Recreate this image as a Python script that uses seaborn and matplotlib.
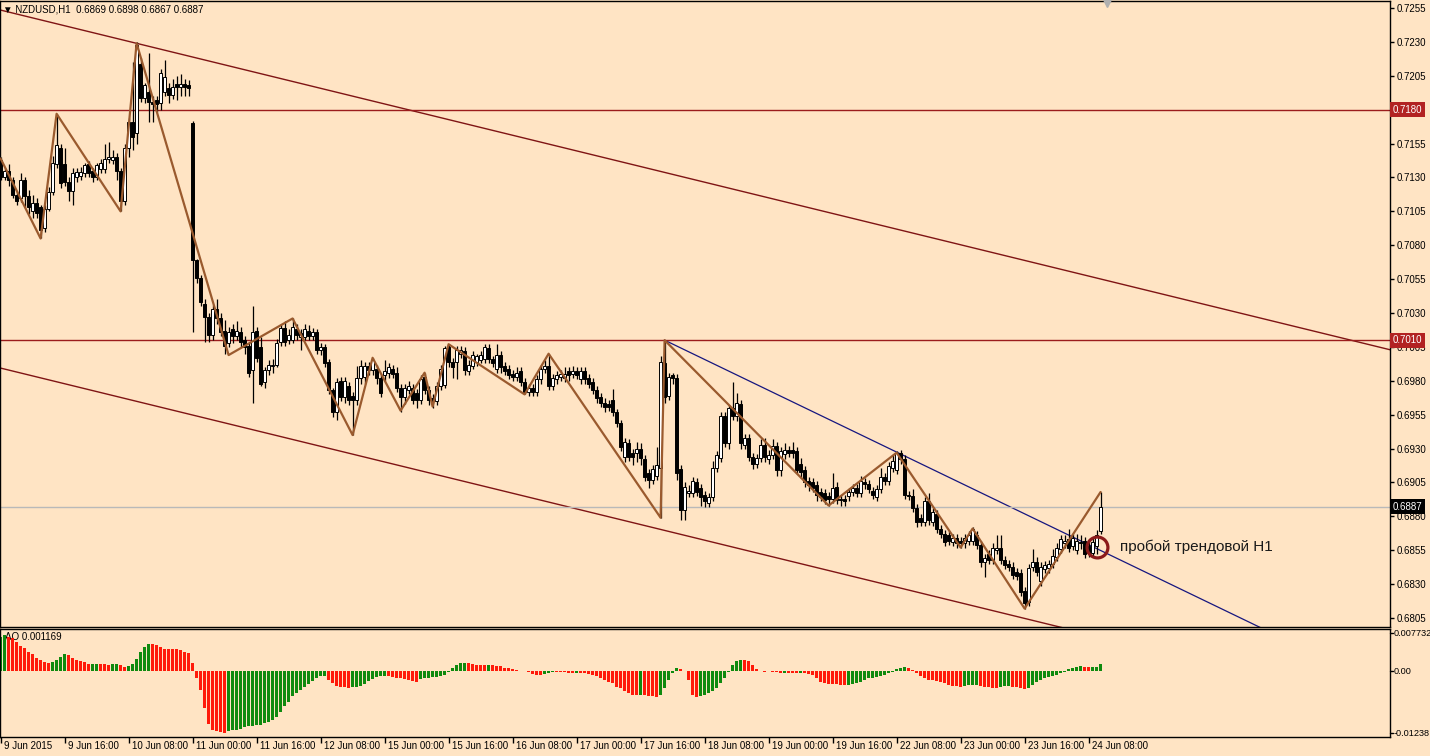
import numpy as np
import matplotlib
matplotlib.use("Agg")
import matplotlib.pyplot as plt
from matplotlib.transforms import blended_transform_factory
import seaborn as sns

# NZDUSD H1, prices in pips (x 1e-4), one row = 10 bars
opens = [
    7143, 7130, 7135, 7128, 7117, 7115, 7128, 7116, 7105, 7111,
    7108, 7093, 7107, 7119, 7140, 7152, 7140, 7127, 7120, 7130,
    7131, 7133, 7140, 7135, 7130, 7136, 7136, 7144, 7143, 7145,
    7135, 7113, 7152, 7171, 7163, 7214, 7189, 7193, 7186, 7187,
    7185, 7193, 7196, 7191, 7199, 7197, 7199, 7198, 7170, 7069,
    7056, 7037, 7027, 7014, 7033, 7026, 7017, 7008, 7018, 7013,
    7016, 7010, 7006, 6988, 7017, 7005, 6979, 6988, 6991, 6992,
    7009, 7019, 7010, 7010, 7018, 7012, 7012, 7017, 7013, 7016,
    7003, 7005, 6994, 6973, 6957, 6980, 6968, 6976, 6969, 6966,
    6982, 6983, 6991, 6988, 6989, 6982, 6984, 6986, 6989, 6986,
    6975, 6968, 6973, 6975, 6971, 6966, 6983, 6973, 6967, 6965,
    6976, 6977, 7005, 6994, 6994, 7000, 7002, 6987, 6991, 6994,
    6995, 6996, 7004, 6996, 6989, 6999, 6991, 6989, 6985, 6983,
    6987, 6979, 6972, 6975, 6972, 6981, 6989, 6991, 6976, 6981,
    6983, 6982, 6987, 6985, 6987, 6981, 6987, 6982, 6979, 6973,
    6968, 6964, 6963, 6966, 6957, 6949, 6924, 6934, 6927, 6927,
    6930, 6922, 6912, 6907, 6910, 6916, 6993, 6969, 6984, 6982,
    6915, 6885, 6897, 6897, 6905, 6901, 6896, 6890, 6894, 6916,
    6923, 6954, 6934, 6960, 6954, 6963, 6933, 6938, 6924, 6919,
    6923, 6933, 6922, 6925, 6932, 6914, 6926, 6929, 6929, 6928,
    6919, 6914, 6906, 6905, 6903, 6898, 6897, 6895, 6893, 6902,
    6893, 6893, 6895, 6898, 6901, 6897, 6905, 6904, 6899, 6894,
    6900, 6909, 6906, 6916, 6914, 6927, 6922, 6896, 6895, 6886,
    6879, 6876, 6891, 6876, 6882, 6871, 6867, 6866, 6861, 6864,
    6862, 6860, 6862, 6862, 6866, 6859, 6846, 6852, 6848, 6855,
    6857, 6848, 6845, 6843, 6839, 6838, 6825, 6817, 6843, 6846,
    6832, 6841, 6842, 6845, 6850, 6856, 6860, 6863, 6858, 6855,
    6861, 6862, 6858, 6853, 6858, 6869,
]
highs = [
    7145, 7137, 7140, 7130, 7120, 7133, 7130, 7121, 7117, 7115,
    7110, 7110, 7123, 7146, 7177, 7155, 7152, 7130, 7137, 7137,
    7138, 7141, 7142, 7137, 7141, 7144, 7155, 7156, 7150, 7148,
    7137, 7155, 7174, 7215, 7230, 7218, 7200, 7222, 7190, 7190,
    7210, 7217, 7200, 7203, 7205, 7206, 7203, 7202, 7172, 7070,
    7058, 7040, 7030, 7036, 7040, 7030, 7025, 7020, 7022, 7024,
    7020, 7013, 7008, 7035, 7020, 7012, 6990, 6995, 6996, 7011,
    7022, 7024, 7018, 7026, 7022, 7018, 7022, 7021, 7019, 7018,
    7008, 7007, 6996, 6975, 6982, 6983, 6983, 6979, 6972, 6991,
    6995, 6994, 6994, 6997, 6992, 6985, 6995, 6993, 6992, 6990,
    6978, 6978, 6980, 6978, 6974, 6984, 6986, 6976, 6970, 6979,
    6992, 7006, 7007, 6997, 7006, 7006, 7005, 6995, 7002, 7000,
    7002, 7007, 7007, 6998, 7007, 7002, 6994, 6992, 6988, 6990,
    6990, 6982, 6978, 6978, 6984, 6992, 6995, 7000, 6985, 6987,
    6988, 6990, 6990, 6991, 6990, 6990, 6990, 6985, 6982, 6976,
    6971, 6967, 6966, 6974, 6959, 6951, 6938, 6937, 6930, 6935,
    6934, 6925, 6915, 6918, 6931, 6998, 7010, 6986, 6986, 6985,
    6918, 6905, 6903, 6909, 6908, 6904, 6899, 6897, 6921, 6928,
    6957, 6957, 6962, 6979, 6971, 6966, 6941, 6941, 6927, 6926,
    6937, 6938, 6929, 6937, 6935, 6931, 6934, 6932, 6935, 6931,
    6923, 6917, 6909, 6908, 6906, 6901, 6900, 6898, 6912, 6905,
    6896, 6896, 6901, 6904, 6904, 6910, 6908, 6907, 6902, 6903,
    6916, 6912, 6920, 6925, 6928, 6929, 6925, 6899, 6900, 6889,
    6882, 6894, 6897, 6886, 6885, 6874, 6870, 6869, 6867, 6867,
    6865, 6867, 6869, 6872, 6869, 6862, 6852, 6855, 6860, 6866,
    6866, 6851, 6848, 6846, 6842, 6841, 6828, 6845, 6856, 6850,
    6846, 6847, 6848, 6856, 6860, 6866, 6866, 6871, 6867, 6867,
    6866, 6865, 6861, 6864, 6870, 6898,
]
lows = [
    7128, 7128, 7124, 7115, 7110, 7112, 7108, 7103, 7100, 7100,
    7085, 7090, 7105, 7117, 7137, 7122, 7124, 7113, 7110, 7127,
    7128, 7130, 7130, 7127, 7128, 7133, 7133, 7141, 7140, 7128,
    7105, 7110, 7145, 7150, 7155, 7186, 7185, 7171, 7171, 7178,
    7180, 7190, 7185, 7188, 7187, 7190, 7190, 7190, 7016, 7052,
    7035, 7009, 7009, 7010, 7022, 7013, 7000, 7005, 7008, 7010,
    7005, 7000, 6983, 6964, 6994, 6976, 6975, 6984, 6986, 6990,
    7006, 7006, 7007, 7008, 7010, 7003, 7010, 7010, 7010, 7000,
    6999, 6990, 6970, 6953, 6951, 6965, 6964, 6962, 6940, 6962,
    6978, 6978, 6984, 6984, 6978, 6968, 6980, 6982, 6982, 6972,
    6957, 6963, 6970, 6963, 6960, 6963, 6970, 6962, 6960, 6962,
    6973, 6975, 6990, 6982, 6981, 6997, 6984, 6984, 6989, 6991,
    6993, 6993, 6993, 6990, 6986, 6986, 6984, 6981, 6980, 6980,
    6976, 6970, 6969, 6969, 6969, 6978, 6986, 6973, 6973, 6978,
    6980, 6979, 6980, 6982, 6981, 6978, 6978, 6975, 6970, 6964,
    6961, 6957, 6958, 6954, 6946, 6928, 6920, 6921, 6918, 6920,
    6918, 6906, 6901, 6904, 6907, 6879, 6964, 6966, 6978, 6907,
    6877, 6877, 6894, 6894, 6895, 6888, 6887, 6887, 6891, 6913,
    6920, 6931, 6930, 6951, 6950, 6930, 6930, 6921, 6915, 6916,
    6920, 6920, 6919, 6922, 6910, 6910, 6922, 6924, 6923, 6911,
    6908, 6902, 6899, 6898, 6891, 6891, 6889, 6888, 6890, 6889,
    6888, 6888, 6891, 6895, 6894, 6894, 6900, 6897, 6893, 6891,
    6897, 6903, 6903, 6913, 6911, 6919, 6893, 6892, 6883, 6872,
    6873, 6873, 6874, 6873, 6868, 6864, 6858, 6859, 6858, 6857,
    6857, 6857, 6859, 6859, 6856, 6843, 6835, 6845, 6845, 6852,
    6845, 6841, 6840, 6834, 6833, 6821, 6812, 6814, 6840, 6836,
    6829, 6838, 6838, 6842, 6847, 6853, 6857, 6854, 6855, 6852,
    6856, 6849, 6850, 6850, 6852, 6867,
]
closes = [
    7130, 7135, 7128, 7117, 7113, 7128, 7116, 7108, 7111, 7104,
    7091, 7107, 7119, 7141, 7154, 7126, 7127, 7120, 7133, 7134,
    7134, 7139, 7133, 7130, 7139, 7141, 7144, 7145, 7145, 7135,
    7113, 7152, 7171, 7160, 7228, 7189, 7198, 7186, 7184, 7184,
    7207, 7204, 7191, 7197, 7197, 7199, 7197, 7196, 7069, 7056,
    7038, 7027, 7014, 7033, 7026, 7016, 7006, 7016, 7013, 7017,
    7009, 7005, 6986, 7016, 6997, 6978, 6988, 6992, 6992, 7008,
    7019, 7009, 7014, 7020, 7014, 7015, 7018, 7013, 7016, 7003,
    7005, 6993, 6973, 6957, 6979, 6968, 6980, 6966, 6966, 6982,
    6991, 6991, 6988, 6995, 6982, 6971, 6987, 6990, 6985, 6975,
    6968, 6975, 6976, 6966, 6966, 6981, 6973, 6966, 6965, 6976,
    6989, 7004, 6994, 6990, 7003, 7003, 6988, 6992, 6999, 6998,
    6999, 7005, 6996, 6993, 6999, 6990, 6987, 6984, 6983, 6986,
    6979, 6972, 6975, 6972, 6981, 6989, 6991, 6976, 6982, 6984,
    6985, 6985, 6984, 6987, 6984, 6987, 6981, 6978, 6973, 6967,
    6964, 6961, 6961, 6957, 6949, 6931, 6935, 6924, 6924, 6930,
    6923, 6909, 6907, 6915, 6918, 6994, 6968, 6983, 6982, 6912,
    6885, 6902, 6899, 6906, 6898, 6894, 6891, 6894, 6916, 6925,
    6954, 6934, 6960, 6954, 6964, 6934, 6938, 6924, 6919, 6923,
    6933, 6924, 6925, 6932, 6914, 6928, 6929, 6927, 6927, 6914,
    6913, 6905, 6903, 6901, 6896, 6894, 6892, 6893, 6901, 6892,
    6892, 6891, 6898, 6901, 6897, 6906, 6904, 6900, 6896, 6900,
    6909, 6906, 6917, 6921, 6927, 6922, 6896, 6895, 6886, 6876,
    6876, 6891, 6877, 6883, 6871, 6867, 6861, 6862, 6864, 6860,
    6860, 6864, 6866, 6871, 6859, 6846, 6849, 6848, 6857, 6857,
    6848, 6844, 6843, 6837, 6836, 6824, 6816, 6842, 6846, 6839,
    6843, 6844, 6845, 6851, 6857, 6863, 6862, 6857, 6864, 6862,
    6860, 6852, 6853, 6861, 6866, 6887,
]

# Awesome Oscillator, x 1e-4
ao = [
    62, 66, 63, 60, 54, 45, 42, 35, 30, 23,
    20, 15, 14.5, 15.5, 20, 26, 30, 28, 23, 19,
    17, 15, 12, 12.5, 12.8, 12, 11.5, 11, 12, 12.5,
    10, 7, 8, 12, 21, 35, 43, 49, 48.5, 47,
    44, 41, 40, 39.8, 39.5, 38, 35, 32, 14, -13,
    -36, -69, -99, -110, -113, -115, -116, -112, -111.5, -110,
    -108, -105, -103, -102.5, -102, -101, -98, -95, -92, -86,
    -77, -67, -59, -48, -41, -36, -31, -25, -19, -14,
    -11, -10.5, -17, -24, -29, -31, -31.5, -32, -31.5, -30,
    -28, -25, -20, -15.5, -12.5, -10, -9.5, -11, -12.5, -13,
    -14, -16, -17.5, -19, -20.5, -16, -14, -13, -12.5, -12,
    -11, -8, -2, 4, 10.5, 13.5, 14, 13.5, 12, 10.5,
    10.3, 10, 10.5, 10.2, 9, 7.5, 5.5, 4.5, 2.5, 1,
    0, -1.5, -3.5, -6, -8, -8.5, -6, -4, -2.5, -2.8,
    -3, -3.5, -4, -4.5, -4, -4.3, -5, -6, -8, -11,
    -14, -17, -21, -23, -30, -33, -38, -42, -45, -46,
    -45, -46.5, -47, -48, -48.5, -45, -33, -17, -5, 5.5,
    3, 0, -17, -45, -50, -48, -45, -42, -39, -33,
    -24, -14, -2, 10.5, 18.5, 20, 19.5, 18.5, 10.5, 2.5,
    0, -1.9, -1.5, -2.5, -3.5, -4, -3.7, -4.3, -4.5, -5,
    -4.5, -5.5, -6, -8, -14, -21, -23, -25, -25.5, -26,
    -27, -27.5, -27, -25, -23, -20.5, -17, -14, -13, -12.5,
    -11, -8, -5, -2, 2.5, 5.5, 6, 4.5, 1.5, -5,
    -11, -14, -17, -18.5, -19, -20.5, -23, -27, -28, -28.5,
    -30, -28, -27, -26.8, -26.5, -28, -30, -31, -32, -33,
    -30, -29.5, -29, -30, -31, -33, -35, -32, -27, -22,
    -17, -14, -12.5, -11, -8, -5, -2, 2.5, 4.5, 6,
    7.5, 7, 6, 6.5, 7, 11.69,
]

# zigzag vertices (bar index, price in pips)
zz_bar = [0, 10, 14, 30, 34, 57, 73, 88, 93, 100, 106, 108, 112,
          131, 137, 165, 166, 207, 224, 240, 243, 256, 275]
zz_pips = [7144, 7085, 7177, 7105, 7229, 6999, 7026, 6940, 6997, 6958, 6986, 6961, 7007,
           6970, 7000, 6879, 7010, 6888, 6927, 6857, 6871, 6812, 6898]

# drawn objects
chan_up_bar = [0, 347.4]
chan_up_px = [0.72535, 0.70029]
chan_lo_bar = [0, 347.4]
chan_lo_px = [0.69894, 0.67388]
trend_bar = [166, 347.4]
trend_px = [0.7010, 0.67518]
levels = [0.7180, 0.7010]
bid = 0.6887
circle_bar, circle_px = 274, 0.68576
note = "пробой трендовой H1"

tick_prices = [0.7255 - 0.0025 * k for k in range(19)]
date_ticks = list(range(0, 276, 16))
date_labels = ["9 Jun 2015", "9 Jun 16:00", "10 Jun 08:00", "11 Jun 00:00", "11 Jun 16:00",
               "12 Jun 08:00", "15 Jun 00:00", "15 Jun 16:00", "16 Jun 08:00", "17 Jun 00:00",
               "17 Jun 16:00", "18 Jun 08:00", "19 Jun 00:00", "19 Jun 16:00", "22 Jun 08:00",
               "23 Jun 00:00", "23 Jun 16:00", "24 Jun 08:00"]

BG = "#FFE4C4"
sns.set_theme(style="white")
plt.rcParams["font.family"] = ["Liberation Sans", "DejaVu Sans"]
plt.rcParams["axes.facecolor"] = BG

o = np.array(opens) / 1e4
h = np.array(highs) / 1e4
l = np.array(lows) / 1e4
c = np.array(closes) / 1e4
x = np.arange(len(c))
aov = np.array(ao) / 1e4

fig = plt.figure(figsize=(14.3, 7.56), dpi=100, facecolor=BG)
ax = fig.add_axes([0, 1 - 627 / 756, 1390 / 1430, 626 / 756])
ax2 = fig.add_axes([0, 1 - 737 / 756, 1390 / 1430, 108 / 756])
xlim = (-0.15, 347.35)

#### main price panel
ax.set_xlim(xlim)
ax.set_ylim(0.67984, 0.72602)

ax.plot(chan_up_bar, chan_up_px, color="#7f1414", lw=1, zorder=1)
ax.plot(chan_lo_bar, chan_lo_px, color="#7f1414", lw=1, zorder=1)
ax.plot(trend_bar, trend_px, color="#16167f", lw=0.9, zorder=1)
for lv in levels:
    ax.axhline(lv, color="#9b1c1c", lw=1, zorder=1)
ax.axhline(bid, color="#b9b9b9", lw=1, zorder=1)

up = c >= o
ax.vlines(x, l, h, color="black", lw=0.9, zorder=2)
body_lo = np.minimum(o, c)
body_h = np.maximum(np.abs(c - o), 0.00004)
ax.bar(x, body_h, bottom=body_lo, width=0.62, color=np.where(up, "white", "black"),
       edgecolor="black", linewidth=0.7, zorder=3)

sns.lineplot(x=zz_bar, y=np.array(zz_pips) / 1e4, ax=ax, color="#9a5a2e", lw=1.6,
             sort=False, estimator=None, zorder=4)

ax.plot([circle_bar], [circle_px], marker="o", ms=15, mfc="none", mec="#8b1a1a", mew=2.3, zorder=5)
ax.text(279.8, 0.68576, note, fontsize=11, va="center", ha="left", color="#1a1a1a")
ax.plot([276.6], [0.7259], marker="v", ms=6, color="#b0b0b0", clip_on=False, zorder=6)

ax.set_xticks([])
ax.yaxis.tick_right()
ax.set_yticks(tick_prices)
# the 0.7180 tick label sits under the level's price tag
ax.set_yticklabels(["" if abs(p - 0.7180) < 1e-6 else "%.4f" % p for p in tick_prices])
ax.tick_params(axis="y", direction="out", length=3, width=1, pad=2, labelsize=7,
               colors="black", right=True, left=False)

def price_tag(val, txt, fc):
    ax.annotate(txt, xy=(1, val), xycoords=("axes fraction", "data"), xytext=(2, 0),
                textcoords="offset points", va="center", ha="left", fontsize=7, color="white",
                bbox=dict(boxstyle="square,pad=0.25", fc=fc, ec="none"), annotation_clip=False,
                zorder=10)

price_tag(0.7180, "0.7180", "#b22222")
price_tag(0.7010, "0.7010", "#b22222")
price_tag(bid, "0.6887", "black")

fig.text(3 / 1430, 1 - 9 / 756, "▼ NZDUSD,H1  0.6869 0.6898 0.6867 0.6887", fontsize=7,
         va="center", ha="left", color="black")

#### AO panel
ax2.set_xlim(xlim)
ax2.set_ylim(-0.01238, 0.007732)
cols = []
prev = True
for i, v in enumerate(aov):
    if i > 0 and v != aov[i - 1]:
        prev = v > aov[i - 1]
    cols.append("#0f8a0f" if prev else "#ff1a0a")
ax2.bar(x, aov, width=0.72, color=cols, linewidth=0, zorder=2)
ax2.text(0.0035, 1 - 8 / 108, "AO 0.001169", transform=ax2.transAxes, fontsize=7,
         va="center", ha="left", color="black", zorder=1)

ax2.set_yticks([])
for val, frac in [("0.007732", 1 - 4 / 108), ("0.00", 1 - 42 / 108), ("-0.01238", 1 - 104 / 108)]:
    ax2.plot([1.0, 1.0022], [frac, frac], color="black", lw=1, transform=ax2.transAxes, clip_on=False)
    ax2.text(1.0025, frac, val, transform=ax2.transAxes, fontsize=6.6, va="center", ha="left",
             color="black")

ax2.set_xticks(date_ticks)
ax2.set_xticklabels([])
ax2.tick_params(axis="x", direction="out", length=4, width=1, bottom=True, colors="black")
trans = blended_transform_factory(ax2.transData, ax2.transAxes)
for t, lab in zip(date_ticks, date_labels):
    ax2.text(t + 0.8, -9 / 108, lab, transform=trans, fontsize=7, va="center", ha="left", color="black")

for a in (ax, ax2):
    for s in a.spines.values():
        s.set_color("black")
        s.set_linewidth(1)
    a.grid(False)

fig.savefig("out.png", dpi=100, facecolor=BG)
